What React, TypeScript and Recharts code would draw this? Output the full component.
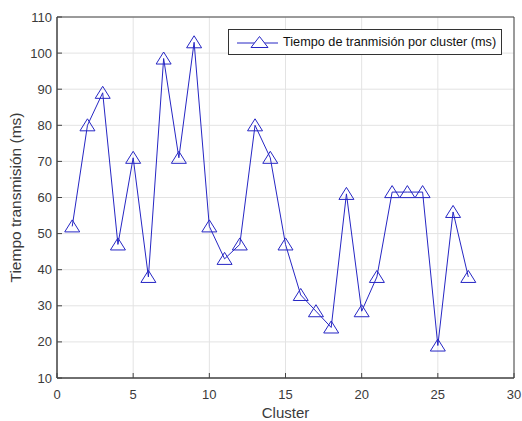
import React from 'react';
import { LineChart, Line, XAxis, YAxis, CartesianGrid, ReferenceArea } from 'recharts';

const clusters = [1,2,3,4,5,6,7,8,9,10,11,12,13,14,15,16,17,18,19,20,21,22,23,24,25,26,27];
const tiempos = [52,80,89,47,71,38,98.5,71,103,52,43,47,80,71,47,33,28.5,24,61,28.5,38,61.5,61.5,61.5,19,56,38];
const xTicks = [0,5,10,15,20,25,30];
const yTicks = [10,20,30,40,50,60,70,80,90,100,110];
const seriesName = 'Tiempo de tranmisión por cluster (ms)';

const data = clusters.map((c, i) => ({ cluster: c, tiempo: tiempos[i] }));

const LINE = '#2626c4';
const AXIS = '#444444';
const TXT = '#3a3a3a';
const FONT = '"Liberation Sans", Arial, Helvetica, sans-serif';
const TL = 5;

const Tri = (props: any) => {
  const { cx, cy } = props;
  if (cx == null || cy == null) return null;
  const w = 7.5, h = 6.5;
  return (
    <path
      d={`M${cx},${cy - h} L${cx + w},${cy + h * 0.85} L${cx - w},${cy + h * 0.85} Z`}
      fill="none"
      stroke={LINE}
      strokeWidth={1}
    />
  );
};

const BottomTick = (props: any) => {
  const { x, y, payload } = props;
  const ay = y - 12;
  return (
    <g>
      <line x1={x} y1={ay} x2={x} y2={ay - TL} stroke={AXIS} strokeWidth={1} />
      <text x={x} y={y} dy={9} textAnchor="middle" fill={TXT} fontSize={13} fontFamily={FONT}>
        {payload.value}
      </text>
    </g>
  );
};

const LeftTick = (props: any) => {
  const { x, y, payload } = props;
  const ax = x + 5;
  return (
    <g>
      <line x1={ax} y1={y} x2={ax + TL} y2={y} stroke={AXIS} strokeWidth={1} />
      <text x={x} y={y} dy={4.5} textAnchor="end" fill={TXT} fontSize={13} fontFamily={FONT}>
        {payload.value}
      </text>
    </g>
  );
};

const TopTick = (props: any) => {
  const { x, y } = props;
  return <line x1={x} y1={y} x2={x} y2={y + TL} stroke={AXIS} strokeWidth={1} />;
};

const RightTick = (props: any) => {
  const { x, y } = props;
  return <line x1={x} y1={y} x2={x - TL} y2={y} stroke={AXIS} strokeWidth={1} />;
};

export default function App() {
  return (
    <div style={{ position: 'absolute', left: 0, top: 0, width: 522, height: 421, background: '#fff' }}>
      <LineChart
        width={522}
        height={421}
        data={data}
        margin={{ top: 17, right: 8, left: 0, bottom: 0 }}
        style={{ fontFamily: FONT }}
      >
        <CartesianGrid stroke="#e3e3e3" strokeWidth={1} />
        <XAxis
          dataKey="cluster"
          type="number"
          domain={[0, 30]}
          ticks={xTicks}
          interval={0}
          height={43}
          stroke={AXIS}
          tickLine={false}
          tickSize={0}
          tickMargin={12}
          tick={<BottomTick />}
          label={{ value: 'Cluster', position: 'insideBottom', offset: 3, fill: TXT, fontSize: 15, fontFamily: FONT }}
        />
        <XAxis
          xAxisId="top"
          orientation="top"
          type="number"
          domain={[0, 30]}
          ticks={xTicks}
          interval={0}
          height={0}
          axisLine={false}
          tickLine={false}
          tickSize={0}
          tickMargin={0}
          tick={<TopTick />}
        />
        <YAxis
          type="number"
          domain={[10, 110]}
          ticks={yTicks}
          interval={0}
          width={57}
          stroke={AXIS}
          tickLine={false}
          tickSize={0}
          tickMargin={5}
          tick={<LeftTick />}
          label={{ value: 'Tiempo transmisión (ms)', angle: -90, position: 'insideLeft', offset: 15, style: { textAnchor: 'middle' }, fill: TXT, fontSize: 15.5, fontFamily: FONT }}
        />
        <YAxis
          yAxisId="right"
          orientation="right"
          type="number"
          domain={[10, 110]}
          ticks={yTicks}
          interval={0}
          width={0}
          axisLine={false}
          tickLine={false}
          tickSize={0}
          tickMargin={0}
          tick={<RightTick />}
        />
        <ReferenceArea x1={0} x2={30} y1={10} y2={110} fill="none" stroke={AXIS} strokeWidth={1} ifOverflow="visible" />
        <Line
          type="linear"
          dataKey="tiempo"
          name={seriesName}
          stroke={LINE}
          strokeWidth={1}
          dot={<Tri />}
          activeDot={false}
          isAnimationActive={false}
        />
      </LineChart>
      <div
        style={{
          position: 'absolute',
          left: 228,
          top: 29,
          width: 274,
          height: 26,
          border: '1px solid #333',
          background: '#fff',
          boxSizing: 'border-box',
          display: 'flex',
          alignItems: 'center',
          fontFamily: FONT,
          fontSize: 12.7,
          color: '#111',
        }}
      >
        <svg width={52} height={24} style={{ display: 'block', flex: 'none' }}>
          <line x1={8} y1={13} x2={49} y2={13} stroke={LINE} strokeWidth={1} />
          <path d="M30.5,6.5 L39,17.5 L22,17.5 Z" fill="#fff" stroke={LINE} strokeWidth={1} />
        </svg>
        <span style={{ marginLeft: 2, whiteSpace: 'nowrap' }}>{seriesName}</span>
      </div>
    </div>
  );
}
